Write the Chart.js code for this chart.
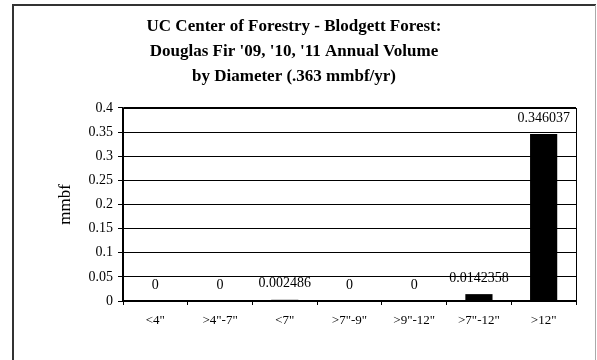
<!DOCTYPE html>
<html>
<head>
<meta charset="utf-8">
<script src="https://cdn.jsdelivr.net/npm/chart.js@4"></script>
<style>
  html, body { margin: 0; padding: 0; background: #fff; }
  #wrap { width: 597px; height: 360px; position: relative; }
</style>
</head>
<body>
<div id="wrap"><canvas id="c" width="597" height="360"></canvas></div>
<script>
const titleLines = ["UC Center of Forestry - Blodgett Forest:", "Douglas Fir '09, '10, '11 Annual Volume", "by Diameter (.363 mmbf/yr)"];
const categories = ['<4"', '>4"-7"', '<7"', '>7"-9"', '>9"-12"', '>7"-12"', '>12"'];
const volumes = [0, 0, 0.002486, 0, 0, 0.0142358, 0.346037];
const yAxisLabel = 'mmbf';
const yMin = 0, yMax = 0.4, yStep = 0.05;

const SERIF = '"Liberation Serif", "Times New Roman", serif';

const framePlugin = {
  id: 'frame',
  beforeDraw(chart) {
    const ctx = chart.ctx;
    ctx.save();
    ctx.fillStyle = '#fff';
    ctx.fillRect(0, 0, chart.width, chart.height);
    ctx.strokeStyle = '#333';
    ctx.lineWidth = 2;
    ctx.beginPath();
    ctx.moveTo(13, 370);
    ctx.lineTo(13, 5);
    ctx.lineTo(596, 5);
    ctx.stroke();
    ctx.strokeStyle = '#aaa';
    ctx.lineWidth = 1;
    ctx.beginPath();
    ctx.moveTo(595.5, 5);
    ctx.lineTo(595.5, 370);
    ctx.stroke();
    ctx.restore();
  },
  afterDraw(chart) {
    const a = chart.chartArea;
    const ctx = chart.ctx;
    ctx.save();
    ctx.strokeStyle = '#000';
    ctx.lineWidth = 1;
    ctx.strokeRect(Math.round(a.left) + 0.5, Math.round(a.top) + 0.5, Math.round(a.right - a.left), Math.round(a.bottom - a.top));
    ctx.restore();
  }
};

const valueLabels = {
  id: 'valueLabels',
  afterDatasetsDraw(chart) {
    const ctx = chart.ctx;
    ctx.save();
    ctx.font = '14px ' + SERIF;
    ctx.fillStyle = '#000';
    ctx.textAlign = 'center';
    ctx.textBaseline = 'middle';
    chart.data.datasets.forEach((ds, di) => {
      chart.getDatasetMeta(di).data.forEach((el, i) => {
        ctx.fillText(String(ds.data[i]), el.x, el.y - 16);
      });
    });
    ctx.restore();
  }
};

new Chart(document.getElementById('c'), {
  type: 'bar',
  data: {
    labels: categories,
    datasets: [{
      data: volumes,
      backgroundColor: '#000',
      borderWidth: 0,
      categoryPercentage: 1,
      barPercentage: 0.42
    }]
  },
  options: {
    responsive: false,
    animation: false,
    devicePixelRatio: 1,
    layout: { padding: { left: 12, right: 21, top: 0, bottom: 0 } },
    plugins: {
      legend: { display: false },
      tooltip: { enabled: false },
      title: {
        display: true,
        text: titleLines,
        color: '#000',
        font: { family: SERIF, size: 17, weight: 'bold', lineHeight: 1.47 },
        padding: { top: 14, bottom: 19 }
      }
    },
    scales: {
      x: {
        afterFit(scale) { scale.height = 59; },
        grid: { display: true, drawOnChartArea: false, drawTicks: true, tickLength: 4, color: '#000', offset: true },
        border: { display: true, color: '#000', width: 2 },
        ticks: { color: '#000', font: { family: SERIF, size: 13 }, padding: 8, maxRotation: 0 }
      },
      y: {
        min: yMin,
        max: yMax,
        afterFit(scale) { scale.width = 111; },
        grid: { color: '#000', lineWidth: 1, drawTicks: true, tickLength: 5 },
        border: { display: true, color: '#000', width: 1.5 },
        ticks: {
          stepSize: yStep,
          color: '#000',
          padding: 5,
          font: { family: SERIF, size: 14 },
          callback: (v) => String(Number(Number(v).toFixed(2)))
        },
        title: {
          display: true,
          text: yAxisLabel,
          color: '#000',
          font: { family: SERIF, size: 17 },
          padding: { top: 43 }
        }
      }
    }
  },
  plugins: [framePlugin, valueLabels]
});
</script>
</body>
</html>
